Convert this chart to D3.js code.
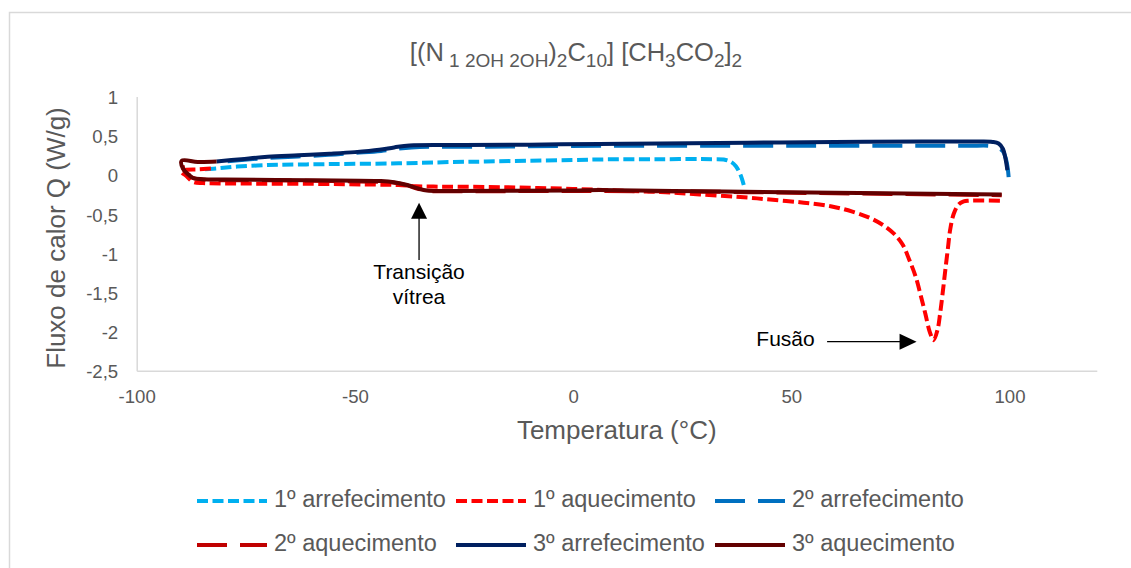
<!DOCTYPE html>
<html>
<head>
<meta charset="utf-8">
<script src="https://cdn.jsdelivr.net/npm/d3@7"></script>
<style>
  body { margin: 0; background: #fff; }
  svg { display: block; font-family: 'Liberation Sans', Arial, sans-serif; }
</style>
</head>
<body>
<div id="chart"></div>
<script>
// series data: [temperatura (°C), fluxo de calor (W/g)]
const arref1 = [[39.1, -0.13], [38.8, -0.07], [38.2, 0.02], [37.3, 0.11], [36.2, 0.165], [34.5, 0.195],
  [32, 0.2], [20, 0.2], [8, 0.198], [0, 0.19], [-10, 0.18], [-20, 0.17], [-28, 0.163], [-40, 0.147],
  [-55, 0.138], [-63, 0.132], [-70, 0.125], [-77, 0.105], [-81, 0.085], [-84.5, 0.07]];

const aquec1 = [[-83, 0.08], [-86, 0.07], [-88.5, 0.065], [-89.7, 0.04], [-88.5, -0.02], [-87.1, -0.09],
  [-84.8, -0.105], [-80, -0.11], [-60, -0.115], [-45, -0.125], [-40, -0.13], [-36, -0.145], [-32, -0.15],
  [-20, -0.155], [-10, -0.165], [0, -0.18], [10, -0.2], [20, -0.22], [29, -0.25], [40, -0.29], [44, -0.31],
  [52, -0.35], [59, -0.4], [64, -0.47], [68, -0.55], [71, -0.64], [73.5, -0.75], [75.5, -0.89], [77, -1.08],
  [78.5, -1.3], [79.7, -1.55], [80.7, -1.77], [81.7, -2.0], [82.6, -2.11], [83.5, -1.98], [84.1, -1.77],
  [84.7, -1.5], [85.3, -1.21], [85.9, -0.93], [86.4, -0.7], [87.2, -0.5], [88.3, -0.38], [89.5, -0.34],
  [90.6, -0.33], [98.2, -0.33]];

const arref2 = [[99.8, -0.03], [99.6, 0.08], [99.2, 0.2], [98.5, 0.3], [97.3, 0.35], [95.5, 0.37],
  [90, 0.37], [50, 0.37], [6, 0.37], [-20, 0.36], [-37, 0.35], [-44, 0.305], [-50, 0.28], [-56, 0.255],
  [-63, 0.235], [-70, 0.215], [-76, 0.19], [-82, 0.16]];

const aquec2 = [[-89.5, 0.12], [-89, 0.04], [-87.5, -0.03], [-85, -0.06], [-70, -0.07], [-55, -0.08],
  [-44, -0.09], [-41, -0.1], [-38, -0.135], [-35.5, -0.18], [-33.5, -0.205], [-28, -0.21], [0, -0.205],
  [30, -0.215], [60, -0.235], [98.2, -0.26]];

const arref3 = [[99.5, 0.06], [99.1, 0.2], [98.5, 0.33], [97.5, 0.4], [96.1, 0.42], [93, 0.425],
  [80, 0.425], [60, 0.42], [40, 0.41], [20, 0.4], [6, 0.395], [-10, 0.385], [-25, 0.38], [-37.5, 0.375],
  [-41, 0.35], [-44.4, 0.32], [-50, 0.29], [-55.8, 0.27], [-63, 0.25], [-70, 0.23], [-76, 0.2], [-81.7, 0.17]];

const aquec3 = [[-81.7, 0.17], [-86, 0.165], [-89.7, 0.18], [-89.4, 0.08], [-88, 0.0], [-87.1, -0.04],
  [-84.8, -0.055], [-80, -0.06], [-60, -0.07], [-44, -0.08], [-41, -0.095], [-38, -0.13], [-35.5, -0.175],
  [-33.5, -0.2], [-28, -0.205], [0, -0.2], [6, -0.195], [30, -0.21], [60, -0.23], [98.2, -0.25]];

const seriesNames = ['1º arrefecimento', '1º aquecimento', '2º arrefecimento',
  '2º aquecimento', '3º arrefecimento', '3º aquecimento'];
const seriesData = [arref1, aquec1, arref2, aquec2, arref3, aquec3];

const xTicks = [-100, -50, 0, 50, 100];
const yTicks = [1, 0.5, 0, -0.5, -1, -1.5, -2, -2.5];

// styles
const shortDash = '11,4.5';
const longDash = '30,13';
const seriesStyle = [
  { color: '#00B0F0', dash: shortDash },
  { color: '#FF0000', dash: shortDash },
  { color: '#0070C0', dash: longDash },
  { color: '#C00000', dash: longDash },
  { color: '#002060', dash: null },
  { color: '#630000', dash: null },
];

const width = 1131, height = 568;
const textColor = '#595959', gridColor = '#D9D9D9';

const svg = d3.select('#chart').append('svg')
  .attr('width', width)
  .attr('height', height);

// chart area border
svg.append('rect')
  .attr('x', 9.5).attr('y', 12.5)
  .attr('width', width + 20).attr('height', height + 20)
  .attr('fill', '#fff')
  .attr('stroke', gridColor)
  .attr('stroke-width', 1.5);

const x = d3.scaleLinear().domain([-100, 120]).range([136.7, 1096.8]);
const y = d3.scaleLinear().domain([-2.5, 1]).range([370.7, 96.5]);

const fmt = (d) => String(d).replace('.', ',');

// title
const titleParts = [
  { t: '[(N', sub: false }, { t: ' 1 2OH 2OH', sub: true }, { t: ')', sub: false },
  { t: '2', sub: true }, { t: 'C', sub: false }, { t: '10', sub: true },
  { t: '] [CH', sub: false }, { t: '3', sub: true }, { t: 'CO', sub: false },
  { t: '2', sub: true }, { t: ']', sub: false }, { t: '2', sub: true },
];
const title = svg.append('text')
  .attr('x', 576).attr('y', 61)
  .attr('text-anchor', 'middle')
  .attr('fill', textColor)
  .style('font-size', '25.5px')
  .style('white-space', 'pre');
let shifted = false;
titleParts.forEach((p) => {
  const ts = title.append('tspan').text(p.t);
  if (p.sub) {
    ts.style('font-size', '19px');
    if (!shifted) ts.attr('dy', 6);
    shifted = true;
  } else if (shifted) {
    ts.attr('dy', -6);
    shifted = false;
  }
});

// x axis
const xAxis = svg.append('g')
  .attr('transform', `translate(0,${y(-2.5)})`)
  .call(d3.axisBottom(x).tickValues(xTicks).tickFormat(fmt).tickSize(0));
xAxis.select('.domain').attr('stroke', gridColor).attr('stroke-width', 1.5);
xAxis.selectAll('text')
  .attr('dy', null)
  .attr('y', 27)
  .attr('dominant-baseline', 'middle')
  .attr('fill', textColor)
  .style('font-size', '18.6px')
  .style('font-family', "'Liberation Sans', Arial, sans-serif");

// y axis
const yAxis = svg.append('g')
  .attr('transform', `translate(${x(-100)},0)`)
  .call(d3.axisLeft(y).tickValues(yTicks).tickFormat(fmt).tickSize(0));
yAxis.select('.domain').attr('stroke', gridColor).attr('stroke-width', 1.5);
yAxis.selectAll('text')
  .attr('x', -18.5)
  .attr('dy', '0.38em')
  .attr('fill', textColor)
  .style('font-size', '18.6px')
  .style('font-family', "'Liberation Sans', Arial, sans-serif");

// axis titles
svg.append('text')
  .attr('x', (x.range()[0] + x.range()[1]) / 2)
  .attr('y', 432)
  .attr('text-anchor', 'middle')
  .attr('dominant-baseline', 'middle')
  .attr('fill', textColor)
  .style('font-size', '26px')
  .text('Temperatura (°C)');

svg.append('text')
  .attr('transform', 'translate(58,238) rotate(-90)')
  .attr('text-anchor', 'middle')
  .attr('dominant-baseline', 'middle')
  .attr('fill', textColor)
  .style('font-size', '26px')
  .text('Fluxo de calor Q (W/g)');

// series
const line = d3.line()
  .x((d) => x(d[0]))
  .y((d) => y(d[1]))
  .curve(d3.curveCatmullRom.alpha(0.5));

svg.append('g').selectAll('path')
  .data(seriesData)
  .join('path')
  .attr('d', line)
  .attr('fill', 'none')
  .attr('stroke', (d, i) => seriesStyle[i].color)
  .attr('stroke-width', 4)
  .attr('stroke-linejoin', 'round')
  .attr('stroke-dasharray', (d, i) => seriesStyle[i].dash);

// annotations
const ann = svg.append('g');
const tgX = x(-35.3);
ann.append('line')
  .attr('x1', tgX).attr('x2', tgX)
  .attr('y1', y(-1.088)).attr('y2', y(-0.356) + 15)
  .attr('stroke', '#000').attr('stroke-width', 1.3);
ann.append('path')
  .attr('d', `M${tgX},${y(-0.356)}L${tgX - 8},${y(-0.356) + 16}L${tgX + 8},${y(-0.356) + 16}Z`)
  .attr('fill', '#000');
ann.selectAll('text.tg')
  .data(['Transição', 'vítrea'])
  .join('text')
  .attr('x', tgX)
  .attr('y', (d, i) => 273 + i * 25)
  .attr('text-anchor', 'middle')
  .attr('dominant-baseline', 'middle')
  .style('font-size', '21px')
  .attr('fill', '#000')
  .text((d) => d);

const fyY = y(-2.13);
ann.append('line')
  .attr('x1', x(58.2)).attr('x2', x(78.7) - 15)
  .attr('y1', fyY).attr('y2', fyY)
  .attr('stroke', '#000').attr('stroke-width', 1.3);
ann.append('path')
  .attr('d', `M${x(78.7)},${fyY}L${x(78.7) - 17},${fyY - 8}L${x(78.7) - 17},${fyY + 8}Z`)
  .attr('fill', '#000');
ann.append('text')
  .attr('x', 785.5).attr('y', 340)
  .attr('text-anchor', 'middle')
  .attr('dominant-baseline', 'middle')
  .style('font-size', '21px')
  .attr('fill', '#000')
  .text('Fusão');

// legend
const legendCols = [197, 456, 715];
const legendRows = [501, 545];
const legend = svg.append('g').selectAll('g')
  .data(seriesNames)
  .join('g')
  .attr('transform', (d, i) => `translate(${legendCols[i % 3]},${legendRows[Math.floor(i / 3)]})`);
legend.append('line')
  .attr('x1', 0).attr('x2', 70)
  .attr('stroke', (d, i) => seriesStyle[i].color)
  .attr('stroke-width', 4)
  .attr('stroke-dasharray', (d, i) => seriesStyle[i].dash);
legend.append('text')
  .attr('x', 77)
  .attr('dominant-baseline', 'middle')
  .attr('fill', textColor)
  .style('font-size', '23.5px')
  .text((d) => d);
</script>
</body>
</html>
